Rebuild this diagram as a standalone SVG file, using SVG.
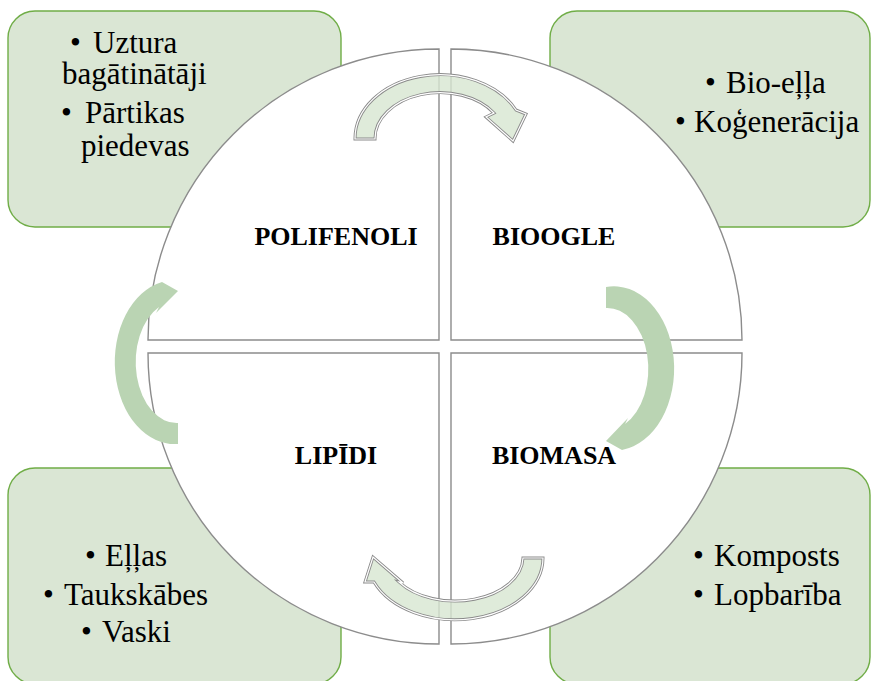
<svg xmlns="http://www.w3.org/2000/svg" width="872" height="681" viewBox="0 0 872 681">
  <defs>
    <style>
      .box { fill: #dae6d4; stroke: #70ad47; stroke-width: 1.4; }
      .quad { fill: #ffffff; stroke: #8c8c8c; stroke-width: 1.4; stroke-linejoin: miter; }
      .btxt { font-family: "Liberation Serif", "Times New Roman", serif; font-size: 31px; fill: #000000; }
      .qtxt { font-family: "Liberation Serif", "Times New Roman", serif; font-size: 26px; font-weight: bold; fill: #000000; text-anchor: middle; }
      .arr-solid { fill: #bad4b3; stroke: none; }
      .arr-out { fill: #d8e6d2; fill-opacity: 0.82; stroke: #8a8a8a; stroke-width: 3; stroke-linejoin: miter; }
      .arr-in { fill: none; stroke: #ffffff; stroke-width: 1.2; stroke-linejoin: miter; }
    </style>
  </defs>
  <rect width="872" height="681" fill="#ffffff"/>

  <!-- corner boxes -->
  <g id="box-top-left">
    <rect class="box" x="8" y="11" width="333" height="216" rx="27" ry="27"/>
    <text class="btxt" y="53"><tspan x="70">•</tspan><tspan x="93">Uztura</tspan></text>
    <text class="btxt" x="62" y="84">bagātinātāji</text>
    <text class="btxt" y="123"><tspan x="61">•</tspan><tspan x="85">Pārtikas</tspan></text>
    <text class="btxt" x="81" y="156">piedevas</text>
  </g>
  <g id="box-top-right">
    <rect class="box" x="550" y="11" width="320" height="216" rx="27" ry="27"/>
    <text class="btxt" y="93"><tspan x="705">•</tspan><tspan x="726">Bio-eļļa</tspan></text>
    <text class="btxt" y="132"><tspan x="675">•</tspan><tspan x="694">Koģenerācija</tspan></text>
  </g>
  <g id="box-bottom-left">
    <rect class="box" x="8" y="468" width="333" height="216" rx="27" ry="27"/>
    <text class="btxt" y="566"><tspan x="85">•</tspan><tspan x="105">Eļļas</tspan></text>
    <text class="btxt" y="605"><tspan x="43">•</tspan><tspan x="64">Taukskābes</tspan></text>
    <text class="btxt" y="642"><tspan x="81">•</tspan><tspan x="102">Vaski</tspan></text>
  </g>
  <g id="box-bottom-right">
    <rect class="box" x="550" y="468" width="320" height="216" rx="27" ry="27"/>
    <text class="btxt" y="566"><tspan x="693">•</tspan><tspan x="714">Komposts</tspan></text>
    <text class="btxt" y="605"><tspan x="693">•</tspan><tspan x="714">Lopbarība</tspan></text>
  </g>

  <!-- circle quadrants -->
  <g id="node-polifenoli">
    <path class="quad" d="M 439 340 L 148 340 A 291 291 0 0 1 439 49 Z"/>
    <text class="qtxt" x="336" y="245">POLIFENOLI</text>
  </g>
  <g id="node-bioogle">
    <path class="quad" d="M 451 340 L 451 49 A 291 291 0 0 1 742 340 Z"/>
    <text class="qtxt" x="554" y="245">BIOOGLE</text>
  </g>
  <g id="node-biomasa">
    <path class="quad" d="M 451 353 L 742 353 A 291 291 0 0 1 451 644 Z"/>
    <text class="qtxt" x="554" y="464">BIOMASA</text>
  </g>
  <g id="node-lipidi">
    <path class="quad" d="M 439 353 L 439 644 A 291 291 0 0 1 148 353 Z"/>
    <text class="qtxt" x="336" y="464">LIPĪDI</text>
  </g>

  <!-- cycle arrows -->
  <g id="connectors">
    <g id="arrow-top">
      <path class="arr-out" d="M 355 139 A 85 64 0 0 1 516 110 L 526 114 L 513 141 L 486 117 L 494 113 A 65 46 0 0 0 375 139 Z"/>
      <path class="arr-in" d="M 355 139 A 85 64 0 0 1 516 110 L 526 114 L 513 141 L 486 117 L 494 113 A 65 46 0 0 0 375 139 Z"/>
    </g>
    <path id="arrow-right" class="arr-solid" d="M 606 287 A 60 82 0 0 1 622 450 L 606 441 L 628 418 L 625 424 A 41 61 0 0 0 606 308 Z"/>
    <g id="arrow-bottom">
      <path class="arr-out" d="M 543 558 A 88 62 0 0 1 374 582 L 365 582 L 373 557 L 403 583 L 399 582 A 68 44 0 0 0 523 558 Z"/>
      <path class="arr-in" d="M 543 558 A 88 62 0 0 1 374 582 L 365 582 L 373 557 L 403 583 L 399 582 A 68 44 0 0 0 523 558 Z"/>
    </g>
    <path id="arrow-left" class="arr-solid" d="M 178 444 A 60 82 0 0 1 162 282 L 178 291 L 156 313 L 159 307 A 41 61 0 0 0 178 423 Z"/>
  </g>
</svg>
